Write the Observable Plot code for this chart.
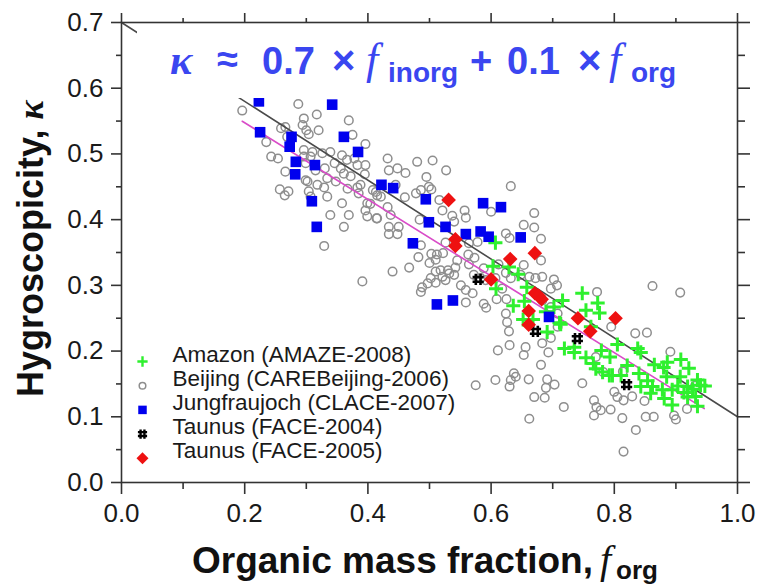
<!DOCTYPE html>
<html>
<head>
<meta charset="utf-8">
<script src="https://cdn.jsdelivr.net/npm/d3@7"></script>
<script src="https://cdn.jsdelivr.net/npm/@observablehq/plot@0.6"></script>
<style>
  body { margin: 0; background: #fff; }
  #chart { width: 760px; height: 586px; }
  #chart svg text { white-space: pre; }
</style>
</head>
<body>
<div id="chart"></div>
<script>
// Hygroscopicity parameter κ versus organic mass fraction f_org, five field campaigns.
// Each entry is [f_org, κ].

const amazon = [
  [0.607,0.365],[0.603,0.329],[0.629,0.328],[0.644,0.317],[0.608,0.295],[0.658,0.297],
  [0.636,0.269],[0.654,0.276],[0.652,0.248],[0.668,0.248],[0.689,0.260],[0.702,0.267],
  [0.716,0.277],[0.748,0.288],[0.773,0.273],[0.776,0.258],[0.754,0.262],[0.691,0.229],
  [0.711,0.243],[0.762,0.237],[0.719,0.204],[0.735,0.206],[0.735,0.198],[0.754,0.190],
  [0.766,0.181],[0.770,0.173],[0.779,0.201],[0.793,0.191],[0.805,0.210],[0.797,0.163],
  [0.821,0.178],[0.838,0.204],[0.843,0.198],[0.840,0.166],[0.843,0.146],[0.862,0.146],
  [0.865,0.179],[0.880,0.175],[0.886,0.183],[0.878,0.141],[0.894,0.141],[0.894,0.118],
  [0.885,0.161],[0.908,0.187],[0.921,0.174],[0.907,0.161],[0.903,0.147],[0.919,0.146],
  [0.927,0.142],[0.935,0.156],[0.947,0.147],[0.919,0.130],[0.935,0.116],[0.859,0.136],
  [0.811,0.163],[0.781,0.168],[0.792,0.163],[0.713,0.241],[0.854,0.155],[0.932,0.131],
  [0.940,0.148],[0.913,0.137],[0.881,0.128]
];

const beijing = [
  [0.196,0.566],[0.287,0.576],[0.296,0.554],[0.317,0.560],[0.369,0.551],[0.235,0.518],
  [0.243,0.496],[0.254,0.493],[0.259,0.539],[0.266,0.541],[0.269,0.526],[0.266,0.473],
  [0.257,0.446],[0.265,0.437],[0.271,0.443],[0.294,0.544],[0.300,0.536],[0.304,0.530],
  [0.320,0.536],[0.296,0.506],[0.296,0.496],[0.299,0.486],[0.307,0.496],[0.310,0.503],
  [0.315,0.475],[0.299,0.460],[0.304,0.443],[0.307,0.435],[0.326,0.501],[0.330,0.478],
  [0.334,0.463],[0.339,0.503],[0.346,0.486],[0.348,0.458],[0.358,0.498],[0.356,0.478],
  [0.361,0.470],[0.372,0.466],[0.366,0.491],[0.378,0.493],[0.375,0.529],[0.396,0.515],
  [0.395,0.469],[0.385,0.440],[0.388,0.453],[0.358,0.425],[0.339,0.407],[0.369,0.407],
  [0.361,0.389],[0.329,0.360],[0.396,0.414],[0.399,0.405],[0.391,0.306],[0.413,0.442],
  [0.414,0.402],[0.404,0.424],[0.334,0.435],[0.318,0.453],[0.329,0.449],[0.383,0.483],
  [0.396,0.483],[0.302,0.458],[0.367,0.447],[0.383,0.449],[0.285,0.488],
  [0.432,0.493],[0.434,0.475],[0.448,0.478],[0.461,0.471],[0.480,0.488],[0.505,0.490],
  [0.527,0.475],[0.495,0.465],[0.499,0.450],[0.503,0.446],[0.486,0.445],[0.478,0.440],
  [0.460,0.434],[0.445,0.453],[0.408,0.445],[0.415,0.437],[0.421,0.435],[0.399,0.425],
  [0.432,0.419],[0.437,0.407],[0.415,0.402],[0.434,0.389],[0.450,0.389],[0.434,0.378],
  [0.448,0.378],[0.484,0.400],[0.516,0.430],[0.521,0.414],[0.537,0.406],[0.540,0.397],
  [0.557,0.414],[0.559,0.403],[0.600,0.412],[0.632,0.451],[0.670,0.410],[0.653,0.392],
  [0.670,0.388],[0.624,0.379],[0.630,0.372],[0.681,0.371],[0.486,0.361],[0.482,0.343],
  [0.503,0.348],[0.512,0.347],[0.522,0.349],[0.510,0.339],[0.500,0.334],[0.467,0.327],
  [0.526,0.365],[0.578,0.366],[0.545,0.338],[0.563,0.347],[0.573,0.342],[0.564,0.332],
  [0.564,0.364],[0.440,0.321],[0.510,0.321],[0.518,0.323],[0.530,0.323],[0.542,0.327],
  [0.540,0.316],[0.502,0.311],[0.572,0.316],[0.583,0.311],[0.588,0.326],[0.612,0.332],
  [0.653,0.331],[0.662,0.313],[0.672,0.311],[0.681,0.338],[0.521,0.313],[0.526,0.308],
  [0.532,0.318],[0.497,0.303],[0.488,0.297],[0.486,0.290],[0.551,0.300],[0.559,0.293],
  [0.570,0.288],[0.591,0.308],[0.624,0.319],[0.632,0.311],[0.648,0.316],[0.607,0.311],
  [0.618,0.295],[0.702,0.309],[0.683,0.313],[0.707,0.300],[0.697,0.295],[0.609,0.279],
  [0.588,0.272],[0.592,0.266],[0.559,0.274],[0.625,0.279],[0.624,0.257],[0.626,0.244],
  [0.629,0.230],[0.683,0.277],[0.697,0.267],[0.708,0.257],[0.697,0.220],[0.683,0.212],
  [0.693,0.198],[0.630,0.209],[0.656,0.206],[0.653,0.194],[0.611,0.201],[0.510,0.304],
  [0.681,0.179],[0.575,0.148],[0.607,0.156],[0.632,0.156],[0.637,0.166],[0.640,0.161],
  [0.630,0.146],[0.661,0.157],[0.670,0.130],[0.662,0.097],[0.687,0.129],[0.691,0.157],
  [0.689,0.144],[0.703,0.149],[0.718,0.115],[0.708,0.237],[0.748,0.151],[0.767,0.125],
  [0.771,0.115],[0.767,0.102],[0.778,0.110],[0.794,0.111],[0.800,0.138],[0.805,0.130],
  [0.815,0.125],[0.813,0.098],[0.829,0.131],[0.835,0.080],[0.851,0.100],[0.864,0.100],
  [0.849,0.124],[0.815,0.047],[0.834,0.227],[0.853,0.228],[0.891,0.199],[0.897,0.102],
  [0.900,0.096],[0.918,0.112],[0.931,0.147],[0.814,0.169],[0.782,0.168],[0.770,0.191],
  [0.795,0.237],[0.772,0.290],[0.862,0.299],[0.907,0.289]
];

const jungfraujoch = [
  [0.223,0.580],[0.342,0.575],[0.225,0.533],[0.276,0.526],[0.361,0.526],[0.273,0.511],
  [0.384,0.503],[0.283,0.488],[0.314,0.483],[0.282,0.469],[0.309,0.428],[0.317,0.389],
  [0.422,0.453],[0.441,0.448],[0.494,0.431],[0.587,0.425],[0.616,0.419],[0.499,0.396],
  [0.526,0.389],[0.559,0.378],[0.583,0.382],[0.596,0.374],[0.648,0.373],[0.473,0.364],
  [0.512,0.271],[0.538,0.277],[0.694,0.252]
];

const taunus2004 = [
  [0.579,0.309],[0.672,0.230],[0.740,0.219],[0.820,0.149]
];

const taunus2005 = [
  [0.531,0.430],[0.542,0.370],[0.542,0.360],[0.631,0.340],[0.671,0.349],[0.600,0.309],
  [0.671,0.288],[0.677,0.284],[0.682,0.279],[0.661,0.261],[0.661,0.240],[0.741,0.250],
  [0.802,0.250],[0.761,0.230]
];

const legendLabels = [
  "Amazon (AMAZE-2008)",
  "Beijing (CAREBeijing-2006)",
  "Jungfraujoch (CLACE-2007)",
  "Taunus (FACE-2004)",
  "Taunus (FACE-2005)"
];

// Parameterisation κ = 0.7·f_inorg + 0.1·f_org, with f_inorg = 1 − f_org
const kappaInorg = 0.7;
const kappaOrg = 0.1;
const paramRange = [0, 1];

// Least-squares fit through the campaign data
const fitIntercept = 0.664;
const fitSlope = -0.583;
const fitRange = [0.196, 0.946];

const xMajor = [0, 0.2, 0.4, 0.6, 0.8, 1.0];
const xMinor = [0.1, 0.3, 0.5, 0.7, 0.9];
const yMajor = [0, 0.1, 0.2, 0.3, 0.4, 0.5, 0.6, 0.7];
const yMinor = [0.05, 0.15, 0.25, 0.35, 0.45, 0.55, 0.65];

const SANS = "'Liberation Sans', Arial, Helvetica, sans-serif";
const SERIF = "'Liberation Serif', 'Times New Roman', 'DejaVu Serif', serif";
const AXIS = "#333";

// "#"-shaped marker drawn with strokes
const hashSymbol = {
  draw(context, size) {
    const r = Math.sqrt(size / Math.PI);
    const a = r * 0.42;
    context.moveTo(-a, -r); context.lineTo(-a, r);
    context.moveTo(a, -r); context.lineTo(a, r);
    context.moveTo(-r, -a); context.lineTo(r, -a);
    context.moveTo(-r, a); context.lineTo(r, a);
  }
};

const styles = [
  {data: amazon,       symbol: "plus",     fill: "none",    stroke: "#2ef02e", strokeWidth: 3.0, r: 4.6, lr: 3.4},
  {data: beijing,      symbol: "circle",   fill: "none",    stroke: "#8e8e8e", strokeWidth: 1.5, r: 4.3, lr: 3.3},
  {data: jungfraujoch, symbol: "square",   fill: "#0000ee", stroke: "none",    strokeWidth: 0,   r: 6.0, lr: 4.8},
  {data: taunus2004,   symbol: hashSymbol, fill: "none",    stroke: "#000",    strokeWidth: 2.6, r: 5.6, lr: 4.6},
  {data: taunus2005,   symbol: "diamond2", fill: "#ee1111", stroke: "none",    strokeWidth: 0,   r: 6.6, lr: 5.4}
];

const seriesMark = (s) => Plot.dot(s.data, {
  x: d => d[0], y: d => d[1], symbol: () => s.symbol, r: s.r,
  fill: s.fill, stroke: s.stroke, strokeWidth: s.strokeWidth
});

const paramLine = paramRange.map(f => ({f, k: kappaInorg * (1 - f) + kappaOrg * f}));
const fitLine = fitRange.map(f => ({f, k: fitIntercept + fitSlope * f}));

// legend rows, stacked upward from the bottom-left corner of the frame
const rowGap = 24.2;
const legendMarks = styles.flatMap((s, i) => {
  const dy = -rowGap * (styles.length - i);
  return [
    Plot.dot([legendLabels[i]], {
      frameAnchor: "bottom-left", dx: 21, dy,
      symbol: () => s.symbol, r: s.lr,
      fill: s.fill, stroke: s.stroke, strokeWidth: Math.min(s.strokeWidth, 2.4)
    }),
    Plot.text([legendLabels[i]], {
      frameAnchor: "bottom-left", dx: 51, dy, text: d => d,
      textAnchor: "start", fontSize: 22.5, fill: "#1a1a1a"
    })
  ];
});

const chart = Plot.plot({
  width: 760,
  height: 586,
  marginLeft: 121,
  marginRight: 23,
  marginTop: 22,
  marginBottom: 104,
  style: {fontFamily: SANS, fontSize: "26px", color: "#1a1a1a", background: "#fff"},
  x: {domain: [0, 1]},
  y: {domain: [0, 0.7]},
  marks: [
    seriesMark(styles[1]),
    Plot.line(paramLine, {x: "f", y: "k", stroke: "#4a4a4a", strokeWidth: 1.6}),
    Plot.line(fitLine, {x: "f", y: "k", stroke: "#d94cc8", strokeWidth: 1.6}),
    seriesMark(styles[0]),
    seriesMark(styles[2]),
    seriesMark(styles[3]),
    seriesMark(styles[4]),
    ...legendMarks,
    Plot.frame({stroke: AXIS, strokeWidth: 1.6}),
    Plot.axisX(xMajor, {anchor: "bottom", tickSize: 12, tickPadding: 9, tickFormat: d3.format(".1f"),
      fontSize: 26, label: null, stroke: AXIS, strokeWidth: 1.6}),
    Plot.axisX(xMinor, {anchor: "bottom", tickSize: 7, tickFormat: () => "", label: null, stroke: AXIS, strokeWidth: 1.6}),
    Plot.axisX(xMajor, {anchor: "top", tickSize: 10, tickFormat: () => "", label: null, stroke: AXIS, strokeWidth: 1.6}),
    Plot.axisX(xMinor, {anchor: "top", tickSize: 5, tickFormat: () => "", label: null, stroke: AXIS, strokeWidth: 1.6}),
    Plot.axisY(yMajor, {anchor: "left", tickSize: 10, tickPadding: 8, tickFormat: d3.format(".1f"),
      fontSize: 26, label: null, stroke: AXIS, strokeWidth: 1.6}),
    Plot.axisY(yMinor, {anchor: "left", tickSize: 5, tickFormat: () => "", label: null, stroke: AXIS, strokeWidth: 1.6}),
    Plot.axisY(yMajor, {anchor: "right", tickSize: 12, tickFormat: () => "", label: null, stroke: AXIS, strokeWidth: 1.6}),
    Plot.axisY(yMinor, {anchor: "right", tickSize: 7, tickFormat: () => "", label: null, stroke: AXIS, strokeWidth: 1.6})
  ]
});

document.getElementById("chart").append(chart);

const svg = d3.select(chart);

// Formula box: white panel over the upper-left of the frame
const BLUE = "#3a46f0";
const box = svg.append("g").attr("text-anchor", "start");
box.append("rect")
  .attr("x", 137).attr("y", 30).attr("width", 555).attr("height", 68)
  .attr("fill", "#fff");
const formula = box.append("text")
  .attr("text-anchor", "start")
  .attr("fill", BLUE).attr("font-family", SANS).attr("font-weight", "bold").attr("font-size", 38);
const part = (x, y, text, opts = {}) => {
  const t = formula.append("tspan").attr("x", x).attr("y", y).text(text);
  for (const [k, v] of Object.entries(opts)) t.attr(k, v);
  return t;
};
part(170, 74, "κ", {"font-family": SERIF, "font-style": "italic", "font-size": 42});
part(217, 72, "≈", {"font-size": 38});
part(262, 74, "0.7");
part(332, 74, "×", {"font-size": 40});
part(366, 74, "f", {"font-family": SERIF, "font-style": "italic", "font-weight": "normal", "font-size": 44});
part(388, 82, "inorg", {"font-size": 28});
part(470, 74, "+");
part(507, 74, "0.1");
part(578, 74, "×", {"font-size": 40});
part(609, 74, "f", {"font-family": SERIF, "font-style": "italic", "font-weight": "normal", "font-size": 44});
part(631, 82, "org", {"font-size": 28});

// Axis titles
const yTitle = svg.append("text")
  .attr("text-anchor", "start")
  .attr("transform", "translate(43,397) rotate(-90)")
  .attr("font-family", SANS).attr("font-weight", "bold").attr("font-size", 36).attr("fill", "#111");
yTitle.append("tspan").text("Hygroscopicity, ");
yTitle.append("tspan").attr("font-family", SERIF).attr("font-style", "italic").text("κ");

const xTitle = svg.append("text")
  .attr("text-anchor", "start")
  .attr("font-family", SANS).attr("font-weight", "bold").attr("font-size", 37).attr("fill", "#111");
xTitle.append("tspan").attr("x", 192).attr("y", 573).text("Organic mass fraction,");
xTitle.append("tspan").attr("x", 600).attr("y", 573)
  .attr("font-family", SERIF).attr("font-style", "italic").attr("font-weight", "normal").attr("font-size", 40).text("f");
xTitle.append("tspan").attr("x", 616).attr("y", 579).attr("font-size", 26).text("org");
</script>
</body>
</html>
